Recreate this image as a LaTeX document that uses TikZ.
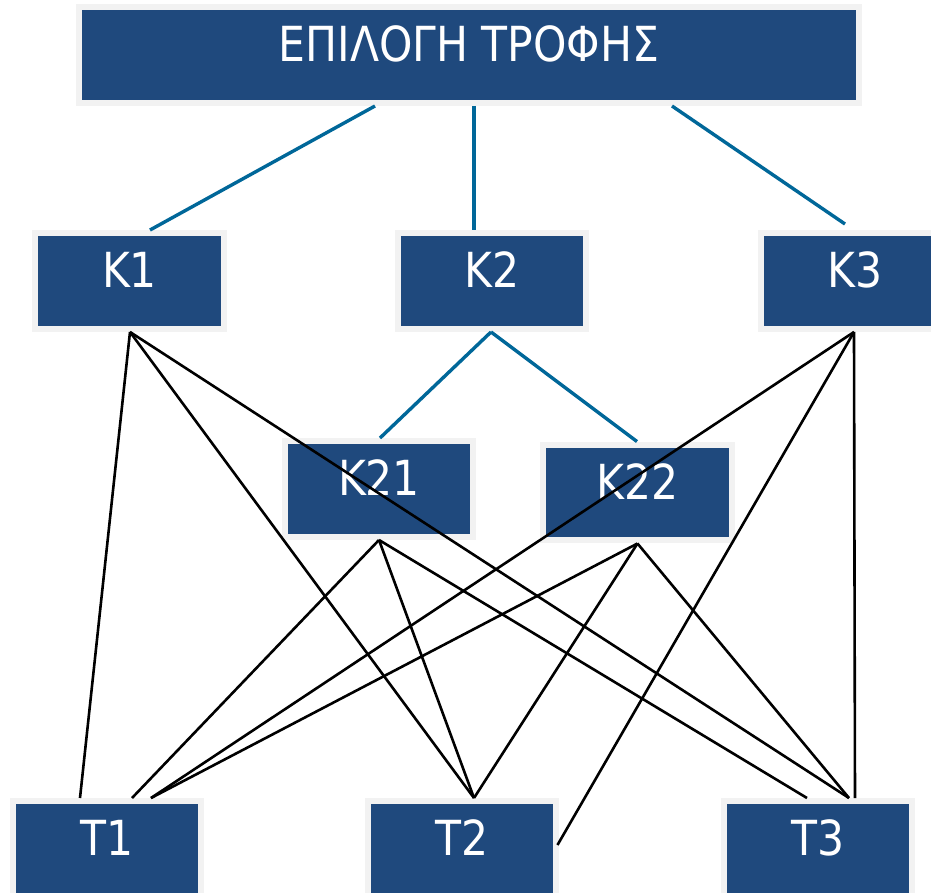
\documentclass[tikz,border=0pt]{standalone}
\usepackage{fontspec}
\setmainfont{DejaVu Sans}[FakeStretch=0.88]
\usetikzlibrary{calc}
\definecolor{boxblue}{RGB}{31,73,125}
\definecolor{rimgray}{RGB}{242,242,242}
\definecolor{linkblue}{RGB}{0,103,153}

\begin{document}
\begin{tikzpicture}[x=0.02cm, y=-0.02cm,
    box/.style={draw=rimgray, line width=0.12cm, fill=boxblue, text=white,
                minimum width=#1, minimum height=1.92cm, inner sep=0pt,
                font=\fontsize{27.5}{27.5}\selectfont,
                text height=0.7cm, text depth=0.44cm},
    box/.default=3.78cm,
    tie/.style={linkblue, line width=0.068cm},
    link/.style={black, line width=0.052cm}
]
\useasboundingbox[fill=white] (0,0) rectangle (931,893);

%% ── Root ───────────────────────────────────────────────────────────────
\node[box=15.6cm] (top) at (469,55) {ΕΠΙΛΟΓΗ ΤΡΟΦΗΣ};

%% ── Criteria ───────────────────────────────────────────────────────────
\node[box] (K1)  at (129.5,281) {K1};
\node[box] (K2)  at (492,281)   {K2};
\node[box] (K3)  at (855,281)   {K3};

%% ── Sub-criteria of K2 ─────────────────────────────────────────────────
\node[box] (K21) at (379,489)     {K21};
\node[box] (K22) at (637.5,492.5) {K22};

%% ── Alternatives ───────────────────────────────────────────────────────
\node[box] (T1) at (107,849) {T1};
\node[box] (T2) at (462,849) {T2};
\node[box] (T3) at (818,849) {T3};

%% ── Hierarchy links ────────────────────────────────────────────────────
\draw[tie] ($(top.south)+(-94,0)$) -- ($(K1.north)+(20.5,0)$);
\draw[tie] ($(top.south)+(5,0)$)   -- ($(K2.north)+(-18,0)$);
\draw[tie] ($(top.south)+(203,0)$) -- ($(K3.north)+(-10,-6)$);
\draw[tie] ($(K2.south)+(-1,0)$)   -- ($(K21.north)+(1,0)$);
\draw[tie] ($(K2.south)+(-1,0)$)   -- ($(K22.north)+(-0.5,0)$);

%% ── Criteria to alternatives ──────────────────────────────────────────
\draw[link] ($(K1.south)+(0.5,0)$) -- ($(T1.north)+(-27,0)$);
\draw[link] ($(K1.south)+(0.5,0)$) -- ($(T2.north)+(12,0)$);
\draw[link] ($(K1.south)+(0.5,0)$) -- ($(T3.north)+(31,0)$);

\draw[link] (K21.south) -- ($(T1.north)+(25,0)$);
\draw[link] (K21.south) -- ($(T2.north)+(12,0)$);
\draw[link] (K21.south) -- ($(T3.north)+(-11,0)$);

\draw[link] (K22.south) -- ($(T1.north)+(44,0)$);
\draw[link] (K22.south) -- ($(T2.north)+(12,0)$);
\draw[link] (K22.south) -- ($(T3.north)+(31,0)$);

\draw[link] ($(K3.south)+(-1,0)$) -- ($(T1.north)+(44,0)$);
\draw[link] ($(K3.south)+(-1,0)$) -- ($(T2.east)+(-2,-4)$);
\draw[link] ($(K3.south)+(-1,0)$) -- ($(T3.north)+(37,0)$);
\end{tikzpicture}
\end{document}
